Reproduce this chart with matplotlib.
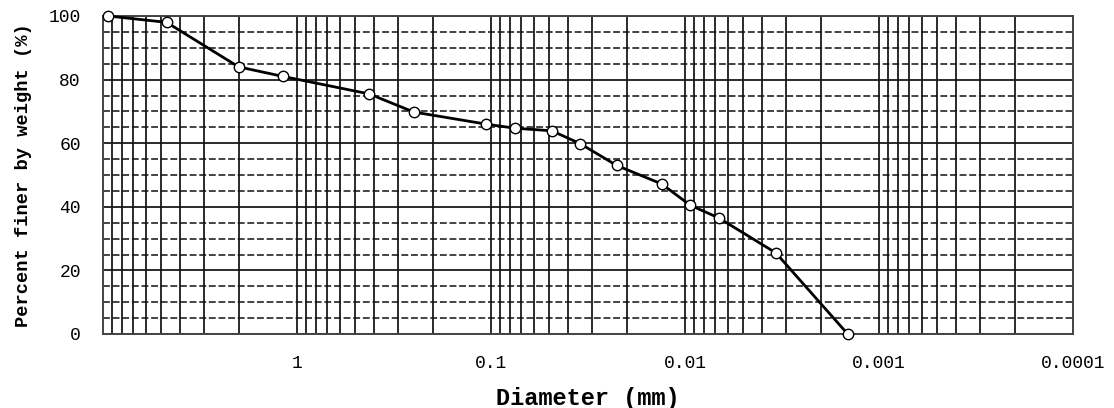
import numpy as np
import matplotlib
matplotlib.use("Agg")
import matplotlib.pyplot as plt
from matplotlib.ticker import FixedLocator, NullFormatter

# Data
diameter_mm = [9.4, 4.7, 2.0, 1.18, 0.425, 0.25, 0.106, 0.075, 0.0486, 0.0348,
               0.0225, 0.0132, 0.0094, 0.0067, 0.0034, 0.00145]
percent_finer = [100, 98, 84, 81, 75.5, 69.8, 66.0, 64.7, 63.9, 59.9,
                 53.0, 47.2, 40.5, 36.5, 25.5, 0]
x_tick_values = [1, 0.1, 0.01, 0.001, 0.0001]
x_tick_labels = ["1", "0.1", "0.01", "0.001", "0.0001"]
y_tick_values = [0, 20, 40, 60, 80, 100]

W, H = 1114, 408
fig = plt.figure(figsize=(W / 100, H / 100), dpi=100)
ax = fig.add_axes([103 / W, (H - 334) / H, (1073 - 103) / W, (334 - 16) / H])

ax.set_xscale("log")
ax.set_xlim(10, 0.0001)
ax.set_ylim(0, 100)

# vertical grid lines: every major & minor log position
minor = []
for e in range(-4, 1):
    for m in range(2, 10):
        minor.append(m * 10.0 ** e)
ax.xaxis.set_major_locator(FixedLocator(x_tick_values))
ax.set_xticklabels(x_tick_labels)
ax.xaxis.set_minor_locator(FixedLocator(minor))
ax.xaxis.set_minor_formatter(NullFormatter())
ax.grid(True, which="major", axis="x", color="#111111", linewidth=1.25)
ax.grid(True, which="minor", axis="x", color="#111111", linewidth=1.25)

# horizontal grid lines
ax.set_yticks(y_tick_values)
ax.grid(True, which="major", axis="y", color="#111111", linewidth=1.25)
for v in range(5, 100, 5):
    if v % 20 != 0:
        ax.axhline(v, color="#111111", linewidth=1.1, linestyle=(0, (4.5, 1.8)), zorder=1)

ax.set_axisbelow(True)
for s in ax.spines.values():
    s.set_color("#444444")
    s.set_linewidth(1.4)

ax.tick_params(axis="both", which="both", length=0)
ax.tick_params(axis="y", pad=16)
ax.tick_params(axis="x", pad=15)
for lab in ax.get_xticklabels() + ax.get_yticklabels():
    lab.set_family("Liberation Mono")
    lab.set_fontsize(13)

ax.plot(diameter_mm, percent_finer, color="black", linewidth=2.0,
        marker="o", markersize=7.5, markerfacecolor="white",
        markeredgecolor="black", markeredgewidth=1.0, zorder=5, clip_on=False)

ax.set_xlabel("Diameter (mm)", family="Liberation Mono", fontweight="bold",
              fontsize=17, labelpad=11)
ax.set_ylabel("Percent finer by weight (%)", family="Liberation Mono",
              fontweight="bold", fontsize=13.5, labelpad=12)

fig.savefig("out.png", dpi=100)
